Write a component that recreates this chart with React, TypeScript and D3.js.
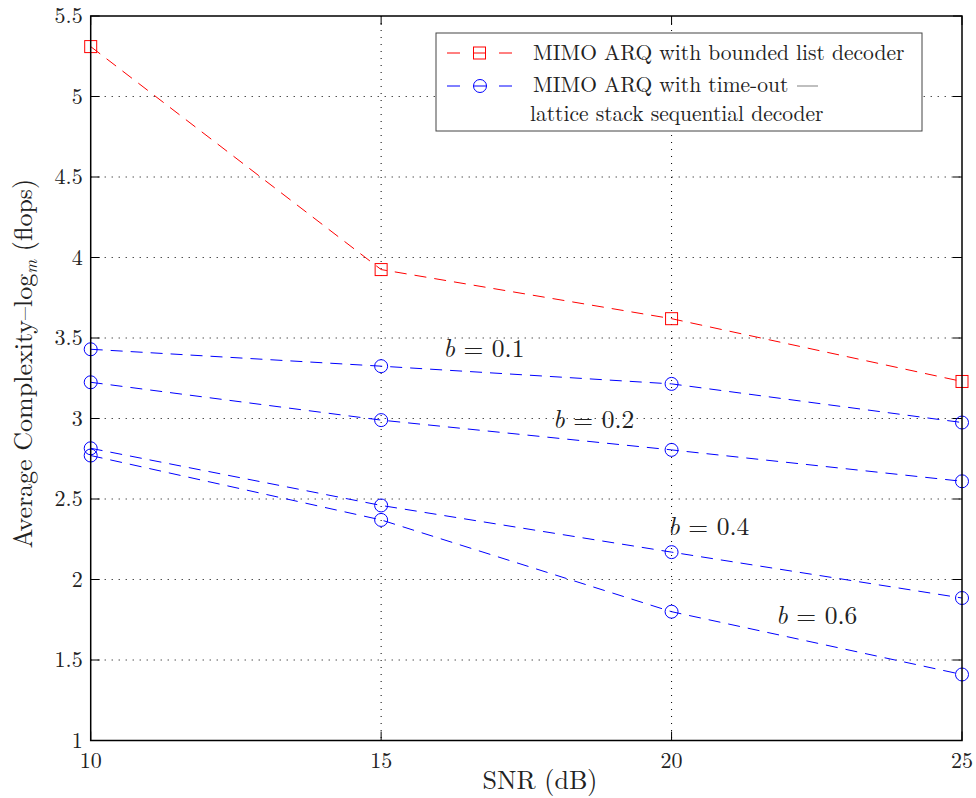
import React from "react";
import * as d3 from "d3";

const snr = [10, 15, 20, 25];
const redList = [5.31, 3.925, 3.62, 3.23];
const b01 = [3.43, 3.325, 3.215, 2.975];
const b02 = [3.225, 2.99, 2.805, 2.61];
const b04 = [2.815, 2.46, 2.17, 1.885];
const b06 = [2.77, 2.37, 1.80, 1.41];
const blueSeries = [b01, b02, b04, b06];
const xTicks = [10, 15, 20, 25];
const yTicks = [1, 1.5, 2, 2.5, 3, 3.5, 4, 4.5, 5, 5.5];
const annotations = [
  { label: "0.1", x: 16.07, y: 3.38 },
  { label: "0.2", x: 17.96, y: 2.94 },
  { label: "0.4", x: 19.94, y: 2.276 },
  { label: "0.6", x: 21.8, y: 1.724 },
];

const W = 976, H = 798;
const L = 90.7, R = 962, T = 16, B = 740.5;
const font = "Latin Modern Roman, CMU Serif, serif";

export default function App() {
  const x = d3.scaleLinear().domain([10, 25]).range([L, R]);
  const y = d3.scaleLinear().domain([1, 5.5]).range([B, T]);
  const line = d3.line<number>().x((_, i) => x(snr[i])).y((d) => y(d));
  const dash = "12,8";
  return (
    <svg width={W} height={H} style={{ position: "absolute", left: 0, top: 0, background: "#fff" }}>
      <rect x={0} y={0} width={W} height={H} fill="#fff" />
      {xTicks.slice(1, -1).map((t) => (
        <line key={"gx" + t} x1={x(t)} x2={x(t)} y1={T} y2={B} stroke="#000" strokeWidth={1} strokeDasharray="1,6" />
      ))}
      {yTicks.slice(1, -1).map((t) => (
        <line key={"gy" + t} x1={L} x2={R} y1={y(t)} y2={y(t)} stroke="#000" strokeWidth={1} strokeDasharray="1,6" />
      ))}
      {xTicks.map((t) => (
        <g key={"tx" + t}>
          <line x1={x(t)} x2={x(t)} y1={B} y2={B - 9} stroke="#000" strokeWidth={1} />
          <line x1={x(t)} x2={x(t)} y1={T} y2={T + 9} stroke="#000" strokeWidth={1} />
          <text x={x(t)} y={B + 27} textAnchor="middle" fontFamily={font} fontSize={22} fill="#222">{t}</text>
        </g>
      ))}
      {yTicks.map((t) => (
        <g key={"ty" + t}>
          <line x1={L} x2={L + 9} y1={y(t)} y2={y(t)} stroke="#000" strokeWidth={1} />
          <line x1={R} x2={R - 9} y1={y(t)} y2={y(t)} stroke="#000" strokeWidth={1} />
          <text x={L - 8} y={y(t) + 7} textAnchor="end" fontFamily={font} fontSize={22} fill="#222">{t}</text>
        </g>
      ))}
      <path d={line(redList) || ""} fill="none" stroke="#ff0000" strokeWidth={1} strokeDasharray={dash} />
      {redList.map((v, i) => (
        <rect key={"rs" + i} x={x(snr[i]) - 6} y={y(v) - 6} width={12} height={12} fill="none" stroke="#ff0000" strokeWidth={1} />
      ))}
      {blueSeries.map((s, k) => (
        <g key={"bs" + k}>
          <path d={line(s) || ""} fill="none" stroke="#0000ff" strokeWidth={1} strokeDasharray={dash} />
          {s.map((v, i) => (
            <circle key={i} cx={x(snr[i])} cy={y(v)} r={6.5} fill="none" stroke="#0000ff" strokeWidth={1} />
          ))}
        </g>
      ))}
      {annotations.map((a) => (
        <text key={a.label} x={x(a.x)} y={y(a.y)} fontFamily={font} fontSize={25.5} fill="#222">
          <tspan fontStyle="italic">b</tspan>
          <tspan> = {a.label}</tspan>
        </text>
      ))}
      <rect x={L} y={T} width={R - L} height={B - T} fill="none" stroke="#000" strokeWidth={1.5} />
      <rect x={436} y={33} width={486} height={98} fill="#fff" stroke="#444" strokeWidth={1} />
      <line x1={447} x2={460} y1={53} y2={53} stroke="#ff0000" strokeWidth={1} />
      <line x1={499} x2={512} y1={53} y2={53} stroke="#ff0000" strokeWidth={1} />
      <rect x={473.5} y={47} width={12} height={12} fill="none" stroke="#ff0000" strokeWidth={1} />
      <line x1={473.5} x2={485.5} y1={53} y2={53} stroke="#ff0000" strokeWidth={1} />
      <text x={533} y={60} fontFamily={font} fontSize={21.5} fill="#222">MIMO ARQ with bounded list decoder</text>
      <line x1={447} x2={460} y1={86} y2={86} stroke="#0000ff" strokeWidth={1} />
      <line x1={499} x2={512} y1={86} y2={86} stroke="#0000ff" strokeWidth={1} />
      <circle cx={480} cy={86} r={6.5} fill="none" stroke="#0000ff" strokeWidth={1} />
      <line x1={473.5} x2={486.5} y1={86} y2={86} stroke="#0000ff" strokeWidth={1} />
      <text x={533} y={92} fontFamily={font} fontSize={21.5} fill="#222">MIMO ARQ with time-out</text>
      <line x1={797} x2={818} y1={86} y2={86} stroke="#aaa" strokeWidth={1.5} />
      <text x={530} y={121} fontFamily={font} fontSize={21.5} fill="#222">lattice stack sequential decoder</text>
      <text x={540} y={789} textAnchor="middle" fontFamily={font} fontSize={26} fill="#222">SNR (dB)</text>
      <text transform={`translate(32, 363.5) rotate(-90)`} textAnchor="middle" fontFamily={font} fontSize={26} fill="#222">
        Average Complexity–log<tspan fontStyle="italic" fontSize={17} dy={5}>m</tspan><tspan dy={-5}> (flops)</tspan>
      </text>
    </svg>
  );
}
